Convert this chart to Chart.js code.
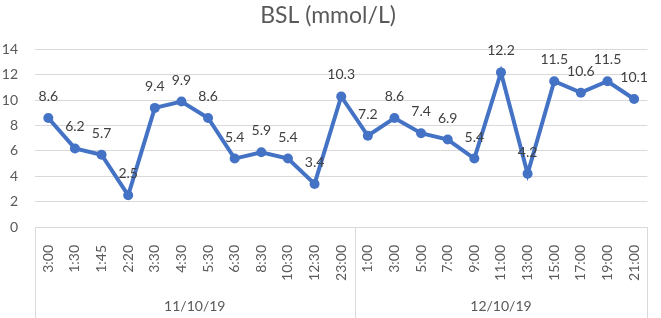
<!DOCTYPE html>
<html>
<head>
<meta charset="utf-8">
<script src="https://cdn.jsdelivr.net/npm/chart.js@4/dist/chart.umd.min.js"></script>
<style>
  html, body { margin: 0; padding: 0; background: #fff; }
  #wrap { width: 661px; height: 318px; }
</style>
</head>
<body>
<div id="wrap"><canvas id="chart-1" width="661" height="318"></canvas></div>
<script>
const times = [
  "3:00", "1:30", "1:45", "2:20", "3:30", "4:30", "5:30", "6:30", "8:30", "10:30", "12:30", "23:00",
  "1:00", "3:00", "5:00", "7:00", "9:00", "11:00", "13:00", "15:00", "17:00", "19:00", "21:00",
];
const bsl = [8.6, 6.2, 5.7, 2.5, 9.4, 9.9, 8.6, 5.4, 5.9, 5.4, 3.4, 10.3, 7.2, 8.6, 7.4, 6.9, 5.4, 12.2, 4.2, 11.5, 10.6, 11.5, 10.1];
const dates = ["11/10/19", "12/10/19"];
const dateSizes = [12, 11];
const yTicks = [0, 2, 4, 6, 8, 10, 12, 14];

const FONT = "Lato";
const GRID = "#d9d9d9";
const TEXT = "#595959";

// value labels above each point
const pointLabels = {
  id: "pointLabels",
  afterDatasetsDraw(chart) {
    const ctx = chart.ctx;
    const meta = chart.getDatasetMeta(0);
    ctx.save();
    ctx.font = "14px " + FONT;
    ctx.fillStyle = "#404040";
    ctx.textAlign = "center";
    ctx.textBaseline = "alphabetic";
    meta.data.forEach((pt, i) => {
      ctx.fillText(String(bsl[i]), pt.x, pt.y - 17);
    });
    ctx.restore();
  },
};

// second level of the category axis: dates and separators
const dateAxis = {
  id: "dateAxis",
  afterDraw(chart) {
    const ctx = chart.ctx;
    const x = chart.scales.x;
    const area = chart.chartArea;
    const step = x.getPixelForValue(1) - x.getPixelForValue(0);
    ctx.save();
    ctx.strokeStyle = GRID;
    ctx.lineWidth = 1;
    ctx.font = "14px " + FONT;
    ctx.fillStyle = TEXT;
    ctx.textAlign = "center";
    ctx.textBaseline = "middle";
    let start = 0;
    const edges = [Math.round(area.left) + 0.5];
    dates.forEach((d, g) => {
      const end = start + dateSizes[g] - 1;
      const left = x.getPixelForValue(start) - step / 2;
      const right = x.getPixelForValue(end) + step / 2;
      edges.push(Math.round(right) + 0.5);
      ctx.fillText(d, (left + right) / 2, x.top + 79);
      start = end + 1;
    });
    edges.forEach((ex) => {
      ctx.beginPath();
      ctx.moveTo(ex, area.bottom);
      ctx.lineTo(ex, chart.height);
      ctx.stroke();
    });
    ctx.restore();
  },
};

new Chart(document.getElementById("chart-1"), {
  type: "line",
  data: {
    labels: times,
    datasets: [
      {
        label: "BSL",
        data: bsl,
        borderColor: "#4472c4",
        backgroundColor: "#4472c4",
        borderWidth: 4,
        pointRadius: 5,
        pointBorderWidth: 0,
        tension: 0,
      },
    ],
  },
  options: {
    responsive: false,
    animation: false,
    layout: { padding: { top: 2, right: 5, left: 0, bottom: 0 } },
    plugins: {
      legend: { display: false },
      tooltip: { enabled: false },
      title: {
        display: true,
        text: "BSL (mmol/L)",
        color: TEXT,
        font: { family: FONT, size: 23, weight: "normal" },
        padding: { top: 0, bottom: 20 },
      },
    },
    scales: {
      x: {
        offset: true,
        grid: { display: false },
        border: { display: false },
        ticks: {
          color: TEXT,
          font: { family: FONT, size: 14 },
          minRotation: 90,
          maxRotation: 90,
          autoSkip: false,
          padding: 10,
        },
        afterFit(scale) {
          scale.height = 91;
        },
      },
      y: {
        min: 0,
        max: 14,
        afterBuildTicks(scale) {
          scale.ticks = yTicks.map((v) => ({ value: v }));
        },
        grid: { color: GRID, drawTicks: false },
        border: { display: false },
        ticks: {
          color: TEXT,
          font: { family: FONT, size: 14 },
          padding: 17,
        },
        afterFit(scale) {
          scale.width = 35;
        },
      },
    },
  },
  plugins: [pointLabels, dateAxis],
});
</script>
</body>
</html>
